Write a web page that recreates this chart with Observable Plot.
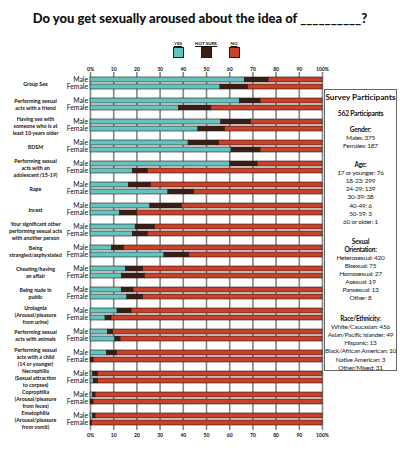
<!DOCTYPE html>
<html><head><meta charset="utf-8">
<script src="https://cdn.jsdelivr.net/npm/d3@7"></script>
<script src="https://cdn.jsdelivr.net/npm/@observablehq/plot@0.6"></script>
<style>
body{margin:0;background:#fff;}
#wrap{position:relative;width:400px;height:457px;font-family:Lato,"Open Sans",sans-serif;color:#111;overflow:hidden;}
#wrap svg{position:absolute;left:0;top:0;}
.title{position:absolute;left:0;top:9px;width:400px;text-align:center;font-family:Lato,"Open Sans",sans-serif;font-weight:900;font-size:13px;line-height:18px;color:#111;}
.leg{position:absolute;top:41px;width:40px;text-align:center;}
.leg .lab{font-size:4.5px;font-weight:bold;text-decoration:underline;line-height:5px;height:6px;}
.leg .sw{width:9px;height:9px;border:1px solid #2a1a16;margin:0 auto;}
.box{position:absolute;left:324px;top:89px;width:73px;height:282px;border:1px solid #666;box-sizing:border-box;text-align:center;padding-top:2px;}
.box .bt{font-weight:bold;font-size:8.2px;line-height:10px;white-space:nowrap;}
.box .l{font-size:6.5px;line-height:8.1px;white-space:nowrap;letter-spacing:-0.25px;color:#222;}
.box .b{font-weight:bold;color:#111;}
</style></head>
<body>
<div id="wrap"></div>
<script>
const titleText = "Do you get sexually aroused about the idea of __________?";
const responses = ["Yes", "Not sure", "No"];
const legendLabels = ["YES", "NOT SURE", "NO"];
const sexes = ["Male", "Female"];
const categories = [
  "Group Sex",
  "Performing sexual\nacts with a friend",
  "Having sex with\nsomeone who is at\nleast 10 years older",
  "BDSM",
  "Performing sexual\nacts with an\nadolescent (15-19)",
  "Rape",
  "Incest",
  "Your significant other\nperforming sexual acts\nwith another person",
  "Being\nstrangled/asphyxiated",
  "Cheating/having\nan affair",
  "Being nude in\npublic",
  "Urolagnia\n(Arousal/pleasure\nfrom urine)",
  "Performing sexual\nacts with animals",
  "Performing sexual\nacts with a child\n(14 or younger)",
  "Necrophilia\n(Sexual attraction\nto corpses)",
  "Coprophilia\n(Arousal/pleasure\nfrom feces)",
  "Emetophilia\n(Arousal/pleasure\nfrom vomit)"
];
const maleYes      = [66.5,64.4,56.4,42.3,60.3,16.5,25.8,19.5, 9.2,15.3,13.6,11.7, 7.6, 7.1, 1.2, 1.2, 1.2];
const maleNotSure  = [10.3, 8.9,12.9,13.1,11.7, 9.5,13.7, 8.3, 5.2, 7.4, 5.0, 6.0, 2.2, 4.4, 2.0, 1.0, 1.0];
const maleNo       = [23.2,26.7,30.7,44.6,28.0,74.0,60.5,72.2,85.6,77.3,81.4,82.3,90.2,88.5,96.8,97.8,97.8];
const femaleYes    = [56.0,38.1,46.5,60.8,18.3,33.6,12.8,18.3,31.9,13.6,15.9, 6.5,10.7, 0.0, 1.4, 0.0, 0.0];
const femaleNotSure= [12.0,14.0,11.5,12.5, 6.4,11.1, 7.3, 6.4,10.7, 9.8, 6.8, 2.6, 2.3, 1.3, 1.9, 1.3, 0.7];
const femaleNo     = [32.0,47.9,42.0,26.7,75.3,55.3,79.9,75.3,57.4,76.6,77.3,90.9,87.0,98.7,96.7,98.7,99.3];
const xTicks = [0,10,20,30,40,50,60,70,80,90,100];
const xTickLabels = ["0%","10","20","30","40","50","60","70","80","90","100%"];
const infoTitle = "Survey Participants";
const infoTotal = "562 Participants";
const infoSections = [
  ["Gender:", ["Males: 375","Females: 187"]],
  ["Age:", ["17 or younger: 76","18-23: 299","24-29: 139","30-39: 38","40-49: 6","50-59: 3","60 or older: 1"]],
  ["Sexual\nOrientation:", ["Heterosexual: 420","Bisexual: 75","Homosexual: 27","Asexual: 19","Pansexual: 13","Other: 8"]],
  ["Race/Ethnicity:", ["White/Caucasian: 456","Asian/Pacific Islander: 49","Hispanic: 13","Black/African American: 10","Native American: 3","Other/Mixed: 31"]]
];
const colors = ["#62c4bf", "#3a1f19", "#c8412a"];

// build table
const series = {Male: [maleYes, maleNotSure, maleNo], Female: [femaleYes, femaleNotSure, femaleNo]};
const rows = [];
categories.forEach((c, i) => {
  sexes.forEach(s => {
    responses.forEach((r, j) => rows.push({key: `${i}|${s}`, response: r, value: series[s][j][i]}));
  });
});
const keys = [];
categories.forEach((c, i) => {
  keys.push(`${i}|Male`, `${i}|Female`);
  if (i < categories.length - 1) keys.push(`${i}|gap`);
});
const sexKeys = keys.filter(k => !k.endsWith("gap"));
const catRows = categories.map((c, i) => ({key: `${i}|Male`, label: c}));

const wrap = document.getElementById("wrap");

const chart = Plot.plot({
  width: 400, height: 457,
  marginLeft: 90, marginRight: 78, marginTop: 72, marginBottom: 27,
  style: {fontFamily: "Lato, 'Open Sans', sans-serif", background: "transparent", color: "#111"},
  x: {domain: [0, 100], axis: null},
  y: {type: "band", domain: keys, paddingInner: 0.3, paddingOuter: 0.05, axis: null},
  color: {domain: responses, range: colors},
  marks: [
    Plot.gridX(xTicks, {stroke: "#858585", strokeOpacity: 1, strokeWidth: 1.6}),
    Plot.barX(rows, Plot.stackX({y: "key", x: "value", fill: "response", order: responses, stroke: "#2a1712", strokeWidth: 0.6})),
    Plot.axisX(xTicks, {anchor: "top", tickSize: 0, tickPadding: 1.5, tickFormat: (d, i) => xTickLabels[i], fontSize: 5, fontWeight: "bold", label: null}),
    Plot.axisX(xTicks, {anchor: "bottom", tickSize: 0, tickPadding: 2.5, tickFormat: (d, i) => xTickLabels[i], fontSize: 5, fontWeight: "bold", label: null}),
    Plot.axisY(sexKeys, {tickSize: 0, tickPadding: 2.5, tickFormat: k => k.split("|")[1], fontSize: 6.8, label: null}),
    Plot.text(catRows, {y: "key", text: "label", frameAnchor: "left", dx: -55, dy: 3.6, textAnchor: "middle", lineAnchor: "middle", fontSize: 5.3, fontWeight: "bold", lineHeight: 1.3, fill: "#111"})
  ]
});
wrap.appendChild(chart);

// title
const t = document.createElement("div");
t.className = "title"; t.textContent = titleText; wrap.appendChild(t);

// legend
const legX = [158, 186, 214];
legendLabels.forEach((lab, i) => {
  const d = document.createElement("div");
  d.className = "leg"; d.style.left = legX[i] + "px";
  d.innerHTML = `<div class="lab">${lab}</div><div class="sw" style="background:${colors[i]}"></div>`;
  wrap.appendChild(d);
});

// info box
const box = document.createElement("div");
box.className = "box";
let html = `<div class="bt">${infoTitle}</div><div class="l b" style="margin-top:7px;font-size:6.8px">${infoTotal}</div>`;
const gaps = [9, 10.7, 12, 12.5];
infoSections.forEach(([head, lines], si) => {
  html += `<div style="margin-top:${gaps[si]}px">`;
  head.split("\n").forEach(h => html += `<div class="l b">${h}</div>`);
  lines.forEach(l => html += `<div class="l">${l}</div>`);
  html += `</div>`;
});
box.innerHTML = html;
wrap.appendChild(box);
</script>
</body></html>
